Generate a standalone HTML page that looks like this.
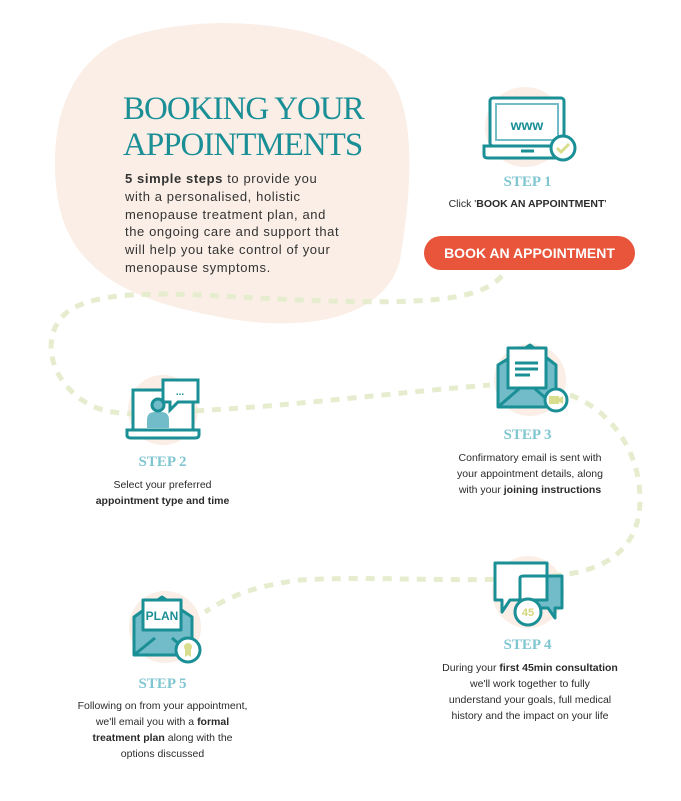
<!DOCTYPE html>
<html><head><meta charset="utf-8"><style>
body{margin:0;background:#fff;}
#c{position:relative;width:681px;height:801px;overflow:hidden;font-family:"Liberation Sans",sans-serif;color:#2b2b2b;}
.t{position:absolute;text-align:center;font-size:10.5px;line-height:16px;}
.s{position:absolute;font-family:"Liberation Serif",serif;font-weight:bold;color:#80c6d1;font-size:15px;text-align:center;}
b{font-weight:bold;}
</style></head><body><div id="c">
<svg width="681" height="801" style="position:absolute;left:0;top:0">
<path d="M120 40 C200 10 330 20 385 70 C420 110 410 200 400 260 C385 320 300 335 210 315 C130 300 70 270 58 200 C48 140 60 70 120 40Z" fill="#faeee6"/>
<circle cx="525" cy="127" r="40" fill="#faeee6"/>
<circle cx="163" cy="410" r="35" fill="#faeee6"/>
<circle cx="530" cy="380" r="36" fill="#faeee6"/>
<circle cx="528" cy="592" r="36" fill="#faeee6"/>
<circle cx="165" cy="627" r="36" fill="#faeee6"/>
<g fill="none" stroke="#e6edcf" stroke-width="5" stroke-dasharray="9 8">
<path d="M502 276 C480 300 430 305 300 300 C200 296 110 285 70 310 C40 330 45 380 90 405 C120 420 170 412 210 410 C300 405 400 392 490 385"/>
<path d="M570 395 C610 410 640 450 640 500 C640 545 610 570 560 575 C480 585 380 575 300 580 C260 585 230 595 205 612"/>
</g>
<g stroke="#1a8f96" stroke-width="3" fill="none">
<rect x="490" y="98" width="74" height="48" rx="3" fill="#fff"/>
<rect x="495" y="103" width="64" height="38" fill="#72bcc9" stroke="none"/>
<rect x="497" y="105" width="60" height="34" fill="#fff" stroke="none"/>
<path d="M484 146 H570 V155 Q570 158 566 158 H488 Q484 158 484 155Z" fill="#fff"/>
<line x1="521" y1="151" x2="534" y2="151"/>
<circle cx="563" cy="148" r="12" fill="#fff"/>
</g>
<text x="527" y="130" font-family="Liberation Sans" font-weight="bold" font-size="14" fill="#1a8f96" text-anchor="middle">www</text>
<path d="M557 148 l4 4 l8 -8" stroke="#d9dd8e" stroke-width="3" fill="none"/>
<g stroke="#1a8f96" stroke-width="3">
<rect x="133" y="390" width="60" height="40" fill="#fff"/>
<path d="M147 428 v-8 q0-8 8-8 h6 q8 0 8 8 v8z" fill="#72bcc9" stroke="none"/>
<circle cx="158" cy="405" r="6" fill="#72bcc9"/>
<path d="M127 430 H199 V435 Q199 438 195 438 H131 Q127 438 127 435Z" fill="#fff"/>
<path d="M163 380 H198 V402 H178 L170 410 V402 H163Z" fill="#fff"/>
</g>
<text x="180" y="395" font-size="10" fill="#1a8f96" text-anchor="middle" font-weight="bold">...</text>
<g stroke="#1a8f96" stroke-width="3" stroke-linejoin="round">
<path d="M498 365 L530 345 L556 365 V407 H498Z" fill="#72bcc9"/>
<rect x="508" y="348" width="38" height="40" fill="#fff"/>
<path d="M498 407 L520 388 M556 407 L534 388" fill="none"/>
<line x1="515" y1="363" x2="538" y2="363"/><line x1="515" y1="369" x2="538" y2="369"/><line x1="515" y1="375" x2="530" y2="375"/>
<circle cx="556" cy="400" r="11" fill="#fff"/>
</g>
<rect x="549" y="396" width="10" height="8" fill="#d9dd8e"/><path d="M559 398 l4 -2 v8 l-4 -2z" fill="#d9dd8e"/>
<g stroke="#1a8f96" stroke-width="3" stroke-linejoin="round">
<path d="M520 576 H562 V608 H555 V618 L548 608 H520Z" fill="#72bcc9"/>
<path d="M495 563 H547 V600 H510 L502 612 V600 H495Z" fill="#fff"/>
<path d="M520 600 V578 Q520 576 524 576 H547" fill="none"/>
<circle cx="528" cy="612" r="13" fill="#fff"/>
</g>
<text x="528" y="616" font-size="11" font-weight="bold" fill="#d4d67e" text-anchor="middle">45</text>
<g stroke="#1a8f96" stroke-width="3" stroke-linejoin="round">
<path d="M134 617 L162 597 L192 617 V655 H134Z" fill="#72bcc9"/>
<rect x="143" y="600" width="38" height="30" fill="#fff"/>
<path d="M134 655 L155 638 M192 655 L172 638" fill="none"/>
<circle cx="188" cy="650" r="12" fill="#fff"/>
</g>
<text x="162" y="620" font-size="12" font-weight="bold" fill="#1a8f96" text-anchor="middle">PLAN</text>
<circle cx="188" cy="647" r="4" fill="#d9dd8e"/><path d="M185 650 v7 l3-2 l3 2 v-7" fill="#d9dd8e"/>
</svg>
<div style="position:absolute;left:123px;top:91px;font-family:'Liberation Serif',serif;font-size:33px;line-height:36px;color:#1a8f96;letter-spacing:-1px;white-space:nowrap">BOOKING YOUR<br>APPOINTMENTS</div>
<div style="position:absolute;left:125px;top:170px;font-size:13px;line-height:17.8px;color:#333;white-space:nowrap;letter-spacing:0.6px"><b>5 simple steps</b> to provide you<br>with a personalised, holistic<br>menopause treatment plan, and<br>the ongoing care and support that<br>will help you take control of your<br>menopause symptoms.</div>
<div class="s" style="left:470px;width:115px;top:174px">STEP 1</div>
<div class="t" style="left:420px;width:215px;top:196px">Click '<b>BOOK AN APPOINTMENT</b>'</div>
<div style="position:absolute;left:424px;top:236px;width:211px;height:34px;border-radius:17px;background:#e8553a;color:#fff;font-weight:bold;font-size:14px;line-height:34px;text-align:center">BOOK AN APPOINTMENT</div>
<div class="s" style="left:105px;width:115px;top:454px">STEP 2</div>
<div class="t" style="left:60px;width:205px;top:477px">Select your preferred<br><b>appointment type and time</b></div>
<div class="s" style="left:470px;width:115px;top:427px">STEP 3</div>
<div class="t" style="left:430px;width:200px;top:450px">Confirmatory email is sent with<br>your appointment details, along<br>with your <b>joining instructions</b></div>
<div class="s" style="left:470px;width:115px;top:637px">STEP 4</div>
<div class="t" style="left:420px;width:220px;top:660px">During your <b>first 45min consultation</b><br>we'll work together to fully<br>understand your goals, full medical<br>history and the impact on your life</div>
<div class="s" style="left:105px;width:115px;top:676px">STEP 5</div>
<div class="t" style="left:55px;width:215px;top:698px">Following on from your appointment,<br>we'll email you with a <b>formal<br>treatment plan</b> along with the<br>options discussed</div>
</div></body></html>
